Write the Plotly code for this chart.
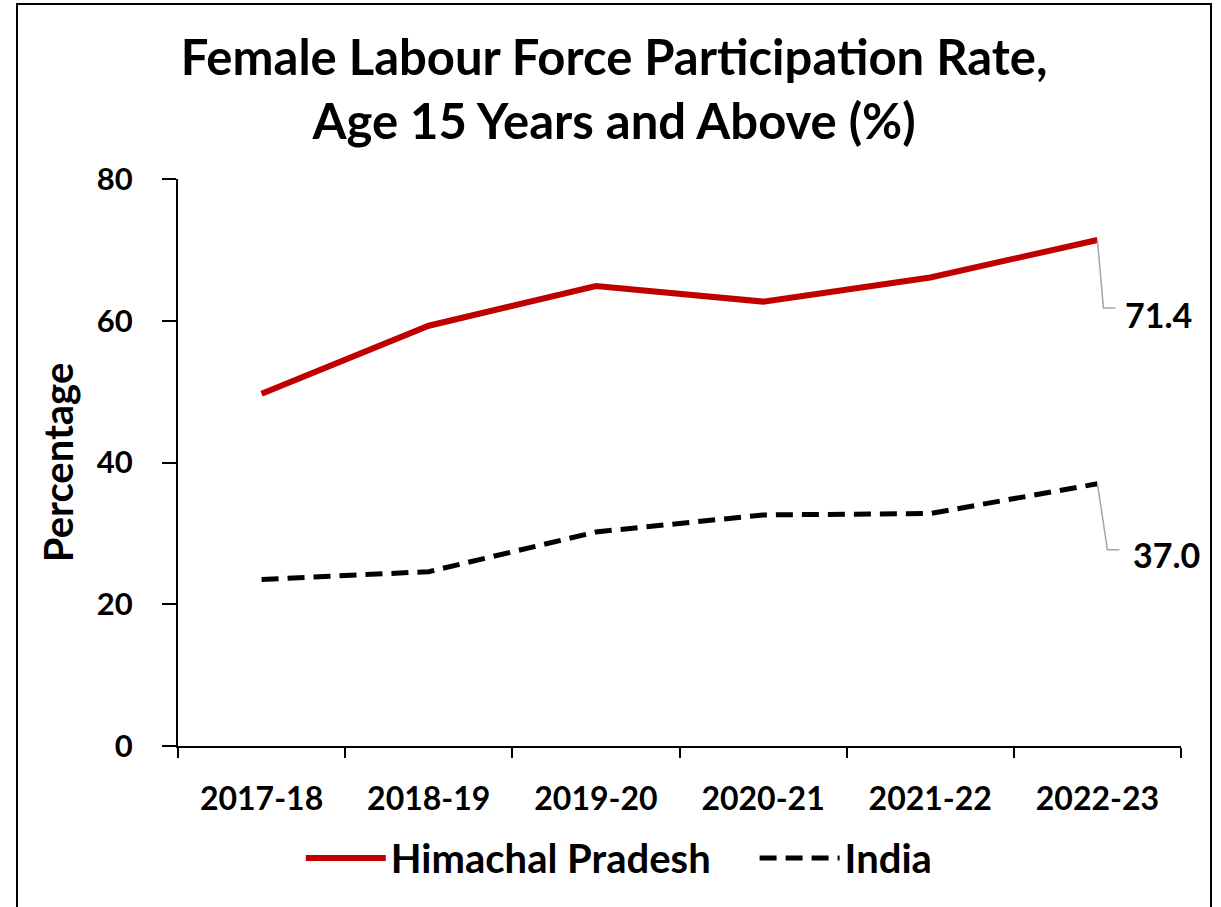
import plotly.graph_objects as go

years = ["2017-18", "2018-19", "2019-20", "2020-21", "2021-22", "2022-23"]
himachal = [49.7, 59.3, 64.9, 62.7, 66.1, 71.4]
india = [23.5, 24.6, 30.2, 32.6, 32.8, 37.0]
series_names = ["Himachal Pradesh", "India"]
title_lines = ["Female Labour Force Participation Rate,", "Age 15 Years and Above (%)"]
y_ticks = [0, 20, 40, 60, 80]

FONT = "Lato"
GAP = "\u00a0" * 4
fig = go.Figure()
fig.add_trace(go.Scatter(x=years, y=himachal, name=series_names[0] + GAP, mode="lines",
                         line=dict(color="#C00000", width=6)))
fig.add_trace(go.Scatter(x=years, y=india, name=series_names[1], mode="lines",
                         line=dict(color="#000000", width=5, dash="17px,9px")))

last = len(years) - 1
for vals, dx, dy, lead in [(himachal, 26, -75, "M0,0 L6,-68 L18,-68"),
                           (india, 34, -71, "M0,0 L10,-66 L22,-66")]:
    fig.add_annotation(x=last, y=vals[-1], xref="x", yref="y", text=f"{vals[-1]:.1f}",
                       showarrow=False, xanchor="left", yanchor="middle",
                       xshift=dx, yshift=dy,
                       font=dict(family=FONT, size=34, color="black", weight="bold"))
    fig.add_shape(type="path", xref="x", yref="y", xsizemode="pixel", ysizemode="pixel",
                  xanchor=last, yanchor=vals[-1], path=lead,
                  line=dict(color="#A6A6A6", width=1.5))

# outer frame
fig.add_shape(type="rect", xref="paper", yref="paper",
              x0=-0.1605, x1=1.0299, y0=-0.30, y1=1.3086,
              line=dict(color="black", width=2), fillcolor="rgba(0,0,0,0)", layer="below")

fig.update_layout(
    width=1221, height=907,
    margin=dict(l=178, r=40, t=179, b=161),
    paper_bgcolor="white", plot_bgcolor="white",
    font=dict(family=FONT, color="black", weight="bold"),
    title=dict(text="<br>".join(title_lines), x=0.503, xanchor="center",
               yref="container", y=0.917, yanchor="middle",
               font=dict(family=FONT, size=49, weight="bold")),
    showlegend=True,
    legend=dict(orientation="h", x=0.44, xanchor="center", y=-0.14, yanchor="top",
                font=dict(family=FONT, size=40, weight="bold"), itemwidth=80,
                traceorder="normal"),
    xaxis=dict(type="category", range=[-0.5, 5.5], showline=True, linecolor="black",
               linewidth=2, ticks="outside", tickson="boundaries", ticklen=10, tickwidth=2,
               tickcolor="black", showgrid=False, ticklabelstandoff=24,
               tickfont=dict(family=FONT, size=32, weight="bold")),
    yaxis=dict(range=[0, 80], tickvals=y_ticks, showline=True, linecolor="black",
               linewidth=2, ticks="outside", ticklen=14, tickwidth=2, tickcolor="black",
               showgrid=False, zeroline=False, ticklabelstandoff=23,
               tickfont=dict(family=FONT, size=31, weight="bold")),
)
fig.add_annotation(text="Percentage", xref="paper", yref="paper", x=-0.12, y=0.5,
                   textangle=-90, showarrow=False, xanchor="center", yanchor="middle",
                   font=dict(family=FONT, size=40, weight="bold"))

fig.write_html("out.html", config={"displayModeBar": False},
               post_script="document.body.style.margin='0px';")
